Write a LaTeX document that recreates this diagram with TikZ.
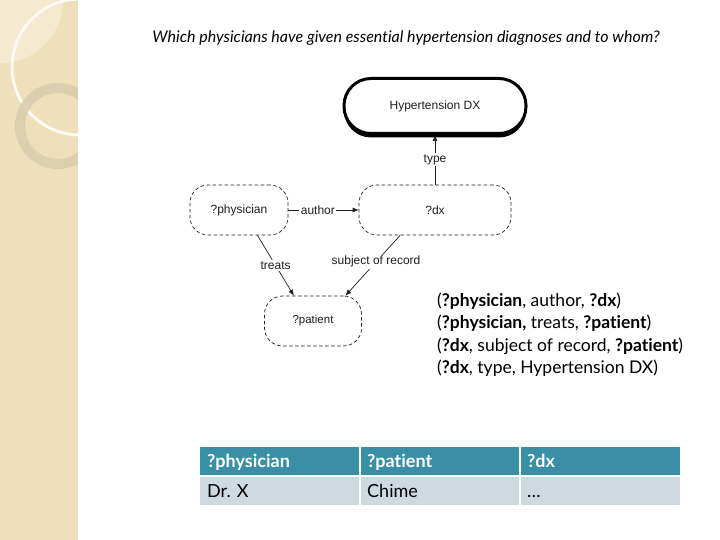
\documentclass[tikz,border=0pt]{standalone}
\usepackage{fontspec}
\setmainfont{Lato}[Ligatures=NoCommon]
\newfontfamily\diafont{Liberation Sans}
\usetikzlibrary{arrows.meta,shadows}
\definecolor{barbeige}{RGB}{239,223,186}
\definecolor{barlight}{RGB}{245,234,208}
\definecolor{ringtan}{RGB}{218,204,174}
\definecolor{headteal}{RGB}{58,142,166}
\definecolor{rowgrey}{RGB}{207,218,224}
\definecolor{diagink}{RGB}{30,30,30}
\begin{document}
\begin{tikzpicture}[x=1pt,y=-1pt,
  var/.style={draw=diagink,line width=0.7pt,dashed,dash pattern=on 3.5pt off 2.5pt,rounded corners=18pt,
    minimum height=50pt,inner sep=0pt,text=diagink,font=\diafont\fontsize{12}{14}\selectfont},
  classbox/.style={draw=black,line width=3pt,fill=white,rounded corners=27pt,
    minimum width=182pt,minimum height=55pt,text=diagink,
    font=\diafont\fontsize{12}{14}\selectfont,
    drop shadow={shadow xshift=0pt,shadow yshift=-4pt,fill=black,opacity=1}},
  rel/.style={draw=diagink,line width=0.7pt,-{Latex[length=6pt,width=5pt]}},
  rellbl/.style={fill=white,inner sep=1.5pt,text=diagink,font=\diafont\fontsize{12}{14}\selectfont},
  triple/.style={anchor=base west,inner sep=0pt,font=\fontsize{17.5}{20}\selectfont},
  cell/.style={anchor=base west,inner sep=0pt,font=\fontsize{18}{20}\selectfont},
  headcell/.style={cell,text=white,font=\bfseries\fontsize{18}{20}\selectfont}]
\useasboundingbox (0,0) rectangle (720,540);
\fill[white] (0,0) rectangle (720,540);

%left bar
\fill[barbeige] (0,0) rectangle (78,540);
\begin{scope}
\clip (0,0) rectangle (78,540);
\fill[barlight] (0,0) -- (63,0) arc[start angle=0,end angle=90,radius=63] -- cycle;
\draw[white!85!barbeige,line width=3pt] (80,67) circle[radius=68];
\draw[ringtan,line width=10pt,opacity=.85] (58,126) circle[radius=38];
\end{scope}

%question
\node[font=\itshape\fontsize{16}{19}\selectfont] (question) at (406,38)
  {Which physicians have given essential hypertension diagnoses and to whom?};

%graph
\node[classbox] (hyp) at (435,106) {Hypertension DX};
\node[var,minimum width=98pt] (phys) at (239,210) {?physician};
\node[var,minimum width=152pt] (dx) at (435,210) {?dx};
\node[var,minimum width=97pt,font=\diafont\fontsize{11.5}{13}\selectfont] (pat) at (313,321) {?patient};

\draw[rel] (dx.north) -- node[rellbl]{type} (hyp.south);
\draw[rel] (phys.east) -- node[rellbl,pos=.42]{author} (dx.west);
\draw[rel] (phys.-54) -- node[rellbl]{treats} (pat.127);
\draw[rel] (dx.-144) -- node[rellbl,pos=.44]{subject of record} (pat.38);

%triples
\node[triple] (t1) at (437,306) {(\textbf{?physician}, author, \textbf{?dx})};
\node[triple] (t2) at (437,328) {(\textbf{?physician,} treats, \textbf{?patient})};
\node[triple] (t3) at (437,351) {(\textbf{?dx}, subject of record, \textbf{?patient})};
\node[triple] (t4) at (437,373) {(\textbf{?dx}, type, Hypertension DX)};

%result table
\fill[headteal] (200,447) rectangle (359,475);
\fill[headteal] (361,447) rectangle (519,475);
\fill[headteal] (521,447) rectangle (680,475);
\fill[rowgrey] (200,477) rectangle (359,505);
\fill[rowgrey] (361,477) rectangle (519,505);
\fill[rowgrey] (521,477) rectangle (680,505);
\node[headcell] (h1) at (207,467) {?physician};
\node[headcell] (h2) at (367,467) {?patient};
\node[headcell] (h3) at (527,467) {?dx};
\node[cell] (c1) at (207,497) {Dr. X};
\node[cell] (c2) at (367,497) {Chime};
\node[cell] (c3) at (527,497) {\dots};
\end{tikzpicture}
\end{document}
